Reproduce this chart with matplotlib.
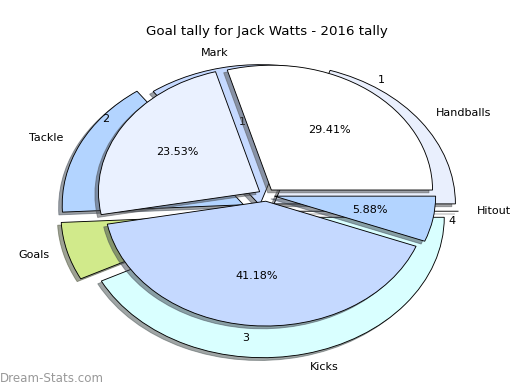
import matplotlib
matplotlib.use('Agg')
import matplotlib.pyplot as plt

# outer pie: stat type averages
stat_labels = ['Handballs', 'Mark', 'Tackle', 'Goals', 'Kicks', 'Hitout']
stat_values = [1.2, 0.9, 0.95, 0.4, 2.55, 0.0]
stat_colors = ['#e9effd', '#c5d9ff', '#b3d4ff', '#d1ea8b', '#d9ffff', '#ffffff']
stat_explode = [0.1, 0.05, 0.12, 0.12, 0.05, 0.1]

# inner pie: tally
tally_labels = ['1', '2', '3', '4']
tally_values = [5, 4, 7, 1]
tally_colors = ['#ffffff', '#eaf1ff', '#c5d9ff', '#b3d4ff']

stat_total = sum(stat_values)

fig = plt.figure(figsize=(6.5, 4.875), dpi=80, facecolor='w')
fig.subplots_adjust(left=0.125, right=0.9, bottom=0.1, top=0.9)
ax = fig.add_subplot(111)

ax.pie(stat_values, labels=stat_labels, colors=stat_colors,
       explode=stat_explode, radius=1.125, center=(-0.034, -0.13),
       shadow=True, autopct=lambda p: '%.0f' % (p * stat_total / 100),
       wedgeprops=dict(edgecolor='black', linewidth=0.8),
       textprops=dict(fontsize=10))
ax.pie(tally_values, labels=tally_labels, colors=tally_colors,
       explode=[0.05] * len(tally_values), radius=1.0,
       shadow=True, autopct='%.2f%%',
       wedgeprops=dict(edgecolor='black', linewidth=0.8, zorder=4),
       textprops=dict(fontsize=10, zorder=5))
ax.set_aspect('auto')
ax.set_title('Goal tally for Jack Watts - 2016 tally', fontsize=12, pad=3.5)

fig.text(0.0, 0.012, 'Dream-Stats.com', fontsize=10.7, color='#999999',
         ha='left', va='bottom')

fig.savefig('out.png', dpi=80)
